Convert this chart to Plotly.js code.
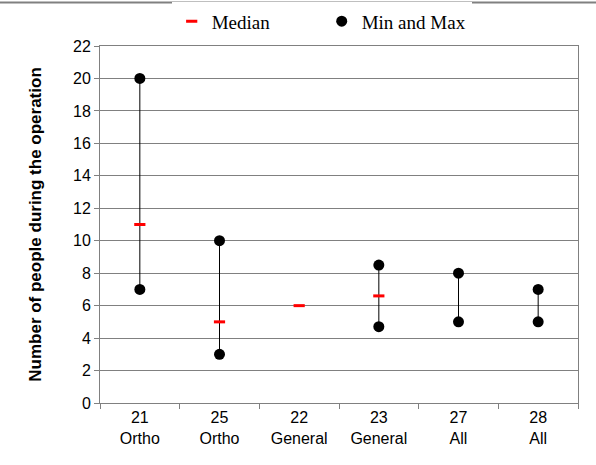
<!DOCTYPE html>
<html><head><meta charset="utf-8">
<script src="https://cdn.plot.ly/plotly-3.0.1.min.js"></script>
<style>html,body{margin:0;padding:0;background:#fff}#c{width:596px;height:465px}</style>
</head><body><div id="c"></div>
<script>
const categories = ["21<br>Ortho","25<br>Ortho","22<br>General","23<br>General","27<br>All","28<br>All"];
const medians = [11, 5, 6, 6.6, null, null];
const mins = [7, 3, null, 4.7, 5, 5];
const maxs = [20, 10, null, 8.5, 8, 7];

const lx = [], ly = [];
categories.forEach((c,i)=>{ if(mins[i]!==null){ lx.push(c,c,null); ly.push(mins[i],maxs[i],null);} });
const px = [], py = [];
categories.forEach((c,i)=>{ if(mins[i]!==null){ px.push(c,c); py.push(mins[i],maxs[i]); } });

const traces = [
  {x: lx, y: ly, mode:'lines', line:{color:'#000', width:1}, showlegend:false, hoverinfo:'skip'},
  {x: categories, y: medians, mode:'markers', name:'Median',
   marker:{symbol:'line-ew', size:8, color:'red', line:{color:'red', width:3}}},
  {x: px, y: py, mode:'markers', name:'Min and Max',
   marker:{symbol:'circle', size:11, color:'#000'}}
];

const layout = {
  width:596, height:465,
  margin:{l:100, r:18, t:46, b:62},
  paper_bgcolor:'#fff', plot_bgcolor:'#fff',
  font:{family:'Liberation Sans, Arial, sans-serif', size:16, color:'#000'},
  showlegend:true,
  legend:{orientation:'h', x:0.15, xanchor:'left', y:0.995, yanchor:'top', yref:'container',
          font:{family:'Liberation Serif, Times New Roman, serif', size:19, color:'#000'},
          entrywidth:105, entrywidthmode:'pixels', traceorder:'normal'},
  xaxis:{type:'category', categoryorder:'array', categoryarray:categories,
         range:[-0.5,5.5], showgrid:false, zeroline:false,
         showline:true, linecolor:'#808080', linewidth:1, mirror:true,
         ticks:'outside', tickson:'boundaries', ticklen:5, tickcolor:'#808080',
         tickfont:{size:16}},
  yaxis:{range:[0,22], dtick:2, showgrid:true, gridcolor:'#808080', gridwidth:1,
         zeroline:false, showline:true, linecolor:'#808080', linewidth:1, mirror:true,
         ticks:'outside', ticklen:5, tickcolor:'#808080', tickfont:{size:16},
         title:{text:'Number of people during the operation', font:{size:17, weight:'bold'}, standoff:27}},
  shapes:[{type:'line', xref:'paper', yref:'paper', x0:-0.22, x1:1.05, y0:1.122, y1:1.122, line:{color:'#808080', width:2}}]
};
Plotly.newPlot('c', traces, layout, {displayModeBar:false, staticPlot:true});
</script></body></html>
